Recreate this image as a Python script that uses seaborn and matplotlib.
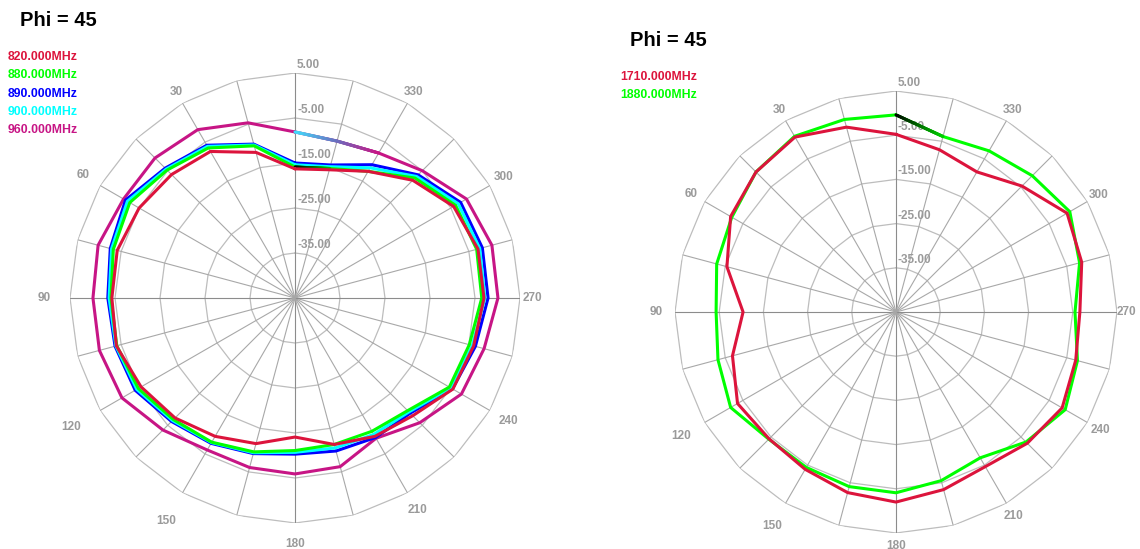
import numpy as np
import pandas as pd
import matplotlib
matplotlib.use("Agg")
import matplotlib.pyplot as plt
import matplotlib.transforms as mtransforms
from matplotlib.collections import LineCollection
from matplotlib.colors import to_rgb
import seaborn as sns

sns.set_theme(style="white")
plt.rcParams["font.family"] = ["Liberation Sans", "DejaVu Sans"]

# ---------------- data ----------------
angles = [0, 15, 30, 45, 60, 75, 90, 105, 120, 135, 150, 165,
          180, 195, 210, 225, 240, 255, 270, 285, 300, 315, 330, 345]

ring_values = [5, -5, -15, -25, -35]
ring_labels = ["5.00", "-5.00", "-15.00", "-25.00", "-35.00"]
angle_labels = ["30", "60", "90", "120", "150", "180", "210", "240", "270", "300", "330"]
angle_label_pos = [30, 60, 90, 120, 150, 180, 210, 240, 270, 300, 330]

title_left = "Phi = 45"
title_right = "Phi = 45"

left_names = ["820.000MHz", "880.000MHz", "890.000MHz", "900.000MHz", "960.000MHz"]
left_colors = ["#DC143C", "#00FF00", "#0000FF", "#00FFFF", "#C71585"]

f820 = [-16.3, -11.5, -7.4, -6.2, -5.0, -4.1, -4.3, -3.9, -5.5, -7.3, -9.5, -11.5,
        -14.1, -11.3, -9.5, -8.0, -4.5, -3.9, -3.0, -2.9, -4.3, -8.0, -12.5, -15.5]
f880 = [-15.9, -10.0, -6.5, -4.8, -2.6, -3.2, -4.1, -4.0, -4.8, -6.8, -8.0, -9.6,
        -11.1, -11.3, -10.8, -9.6, -5.4, -4.9, -3.5, -3.2, -3.8, -7.3, -12.5, -15.2]
f890 = [-15.0, -9.6, -5.8, -4.2, -1.5, -2.5, -3.4, -3.6, -4.0, -6.2, -7.7, -9.2,
        -10.3, -9.8, -9.2, -8.8, -4.6, -3.5, -2.1, -1.9, -2.5, -6.3, -10.8, -14.4]
f900 = [-15.4, -9.8, -6.1, -4.5, -2.0, -2.8, -3.7, -3.8, -4.4, -6.5, -7.9, -9.4,
        -10.7, -10.5, -10.0, -9.2, -5.0, -4.2, -2.8, -2.5, -3.1, -6.8, -11.6, -14.8]
f960 = [-8.1, -4.7, -1.8, -1.0, -1.0, 0.3, -0.1, 0.0, -0.6, -3.5, -6.0, -6.0,
        -5.9, -6.2, -9.0, -5.8, -2.3, -1.5, 0.1, 0.3, -1.0, -5.0, -7.8, -8.9]

right_names = ["1710.000MHz", "1880.000MHz"]
right_colors = ["#DC143C", "#00FF00"]

f1710 = [-4.8, -1.7, 0.7, -0.2, -1.8, -5.4, -10.4, -6.7, -3.6, -4.4, -3.9, -2.7,
         -2.0, -3.4, -4.6, -3.0, -1.6, -2.9, -3.4, -1.5, -0.3, -4.7, -8.4, -7.0]
f1880 = [-0.4, 0.1, 0.9, -0.2, -2.1, -3.0, -4.3, -3.3, -1.8, -4.3, -4.4, -4.1,
         -4.1, -5.5, -6.9, -3.4, -0.8, -2.5, -4.5, -2.0, 0.4, -1.4, -2.9, -3.9]

RMIN, RMAX = -45, 5
W, H = 1140, 549

# label padding beyond the outer ring (px), per angle label (layout only)
label_pad_left = [13, 20, 26, 33, 32, 21, 20, 21, 12, 16, 13]
label_pad_right = [12, 15, 19, 27, 26, 13, 15, 15, 9, 13, 12]

fig = plt.figure(figsize=(W / 100, H / 100), dpi=100)


def px_axes(cx, cy, R):
    return [(cx - R) / W, (H - (cy + R)) / H, 2 * R / W, 2 * R / H]


axL = fig.add_axes(px_axes(295, 298, 225), projection="polar")
axR = fig.add_axes(px_axes(896, 312, 221), projection="polar")

LW = 2.2


def setup(ax, R, pads):
    ax.set_theta_zero_location("N")
    ax.set_theta_direction(1)
    ax.set_ylim(RMIN, RMAX)
    ax.grid(False)
    ax.set_xticks([])
    ax.set_yticks([])
    ax.spines["polar"].set_visible(False)
    ax.patch.set_alpha(0)
    full = np.deg2rad(np.array(angles + [360]))
    for v in ring_values:
        ax.plot(full, [v] * len(full), color="#bdbdbd", lw=0.9, zorder=1)
    for a in angles:
        col = "#8c8c8c" if a % 90 == 0 else "#a8a8a8"
        ax.plot([np.deg2rad(a)] * 2, [RMIN, RMAX], color=col, lw=0.8, zorder=1)
    off = mtransforms.offset_copy(ax.transData, fig=fig, x=2, y=2, units="dots")
    for v, t in zip(ring_values, ring_labels):
        ax.text(0, v, t, transform=off, ha="left", va="bottom", fontsize=8.5,
                fontweight="bold", color="#9a9a9a", zorder=2)
    per_db = R / (RMAX - RMIN)
    for a, t, p in zip(angle_label_pos, angle_labels, pads):
        ax.text(np.deg2rad(a), RMAX + p / per_db, t, ha="center", va="center",
                fontsize=8.5, fontweight="bold", color="#9a9a9a", clip_on=False)


def series(ax, vals, color, z):
    th = np.deg2rad(np.array(angles + [360]))
    rr = np.array(vals + [vals[0]])
    df = pd.DataFrame({"theta": th, "r": rr})
    sns.lineplot(data=df, x="theta", y="r", ax=ax, sort=False, estimator=None,
                 color=color, lw=LW, zorder=z)
    ax.set_xlabel("")
    ax.set_ylabel("")


def gradient_chord(ax, a0, v0, a1, v1, c0, c1, z, n=40):
    p0 = (v0 - RMIN) * np.array([np.cos(np.deg2rad(a0)), np.sin(np.deg2rad(a0))])
    p1 = (v1 - RMIN) * np.array([np.cos(np.deg2rad(a1)), np.sin(np.deg2rad(a1))])
    t = np.linspace(0, 1, n + 1)
    pts = p0[None, :] * (1 - t[:, None]) + p1[None, :] * t[:, None]
    th = np.unwrap(np.arctan2(pts[:, 1], pts[:, 0]))
    rr = np.hypot(pts[:, 0], pts[:, 1]) + RMIN
    segs = [[(th[i], rr[i]), (th[i + 1], rr[i + 1])] for i in range(n)]
    c0, c1 = np.array(to_rgb(c0)), np.array(to_rgb(c1))
    cols = [tuple(c0 * (1 - s) + c1 * s) for s in (t[:-1] + t[1:]) / 2]
    ax.add_collection(LineCollection(segs, colors=cols, lw=LW, zorder=z,
                                     capstyle="round"))


setup(axL, 225, label_pad_left)
setup(axR, 221, label_pad_right)

series(axL, f960, left_colors[4], 3)
series(axL, f890, left_colors[2], 4)
series(axL, f900, left_colors[3], 5)
series(axL, f880, left_colors[1], 6)
series(axL, f820, left_colors[0], 7)
gradient_chord(axL, 360, f960[0], 345, f960[23], "#40e0ff", "#6a70c0", 3.5)
gradient_chord(axL, 345, f960[23], 330, f960[22], "#6a70c0", left_colors[4], 3.5)
gradient_chord(axL, 360, f880[0], 345, f880[23], "#000000", "#00c000", 6.5)

series(axR, f1880, right_colors[1], 4)
series(axR, f1710, right_colors[0], 5)
gradient_chord(axR, 360, f1880[0], 345, f1880[23], "#000000", "#00d000", 4.5)

fig.text(20 / W, 1 - 20 / H, title_left, fontsize=14.5, fontweight="bold",
         color="black", ha="left", va="center")
fig.text(630 / W, 1 - 40 / H, title_right, fontsize=14.5, fontweight="bold",
         color="black", ha="left", va="center")
for i, (n, c) in enumerate(zip(left_names, left_colors)):
    fig.text(8 / W, 1 - (57 + 18.3 * i) / H, n, fontsize=8.8, fontweight="bold",
             color=c, ha="left", va="center")
for i, (n, c) in enumerate(zip(right_names, right_colors)):
    fig.text(620 / W, 1 - (76.5 + 18.3 * i) / H, n, fontsize=8.8, fontweight="bold",
             color=c, ha="left", va="center")

fig.savefig("out.png", dpi=100, facecolor="white")
